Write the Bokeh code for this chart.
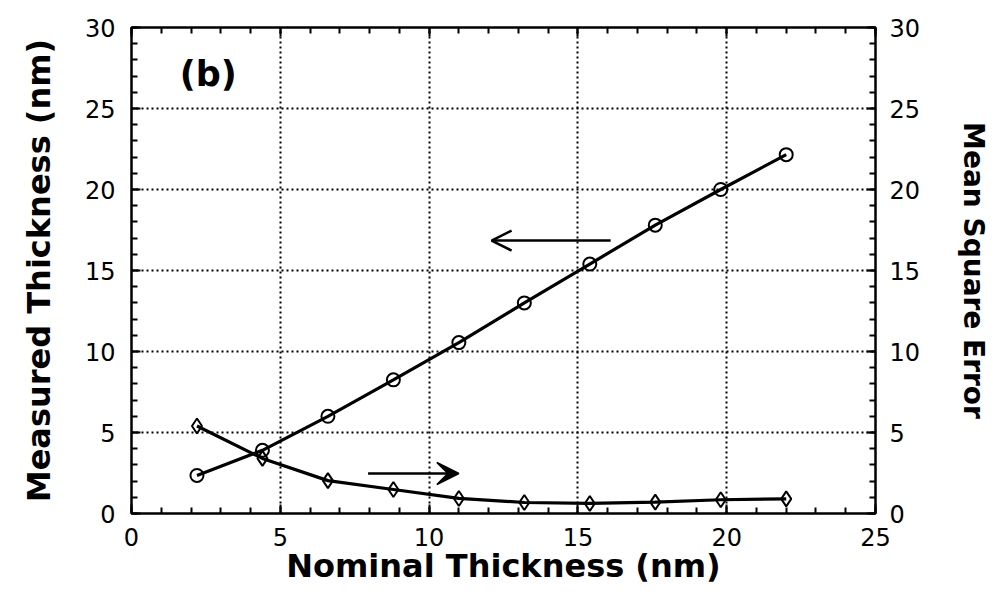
from bokeh.plotting import figure
from bokeh.models import (Range1d, LinearAxis, FixedTicker, Label, Arrow,
                          VeeHead, OpenHead, ColumnDataSource, CustomJSTickFormatter)
from bokeh.embed import file_html
from bokeh.resources import INLINE

# ---- data ----
nominal = [2.2, 4.4, 6.6, 8.8, 11.0, 13.2, 15.4, 17.6, 19.8, 22.0]
measured = [2.35, 3.9, 6.0, 8.25, 10.55, 13.0, 15.4, 17.8, 20.0, 22.15]
mse = [5.4, 3.4, 2.03, 1.48, 0.93, 0.68, 0.62, 0.7, 0.85, 0.9]

x_major = [0, 5, 10, 15, 20, 25]
x_minor = list(range(0, 26))
y_major = [0, 5, 10, 15, 20, 25, 30]
y_minor = list(range(0, 31))

x_title = "Nominal Thickness (nm)"
y_title = "Measured Thickness (nm)"
y2_title = "Mean Square Error"

# arrows pointing to the axis each curve belongs to
left_arrow = dict(x_start=16.1, x_end=12.1, y=16.85)
right_arrow = dict(x_start=7.95, x_end=11.0, y=2.47)

panel_tag = "(b)"
panel_pos = (1.62, 27.1)

FONT = "DejaVu Sans"

p = figure(width=1002, height=603, output_backend="svg", toolbar_location=None,
           x_range=Range1d(0, 25), y_range=Range1d(0, 30),
           x_axis_location=None, y_axis_location=None,
           min_border_left=131, min_border_right=127,
           min_border_top=27, min_border_bottom=90)
p.extra_y_ranges = {"mse": Range1d(0, 30)}
p.background_fill_color = "white"
p.border_fill_color = "white"
p.outline_line_color = "black"
p.outline_line_width = 2


def style_axis(ax, ticks, minor, labels=True):
    ax.ticker = FixedTicker(ticks=ticks, minor_ticks=minor)
    ax.axis_line_color = "black"
    ax.axis_line_width = 2
    ax.major_tick_in = 9
    ax.major_tick_out = 0
    ax.minor_tick_in = 6
    ax.minor_tick_out = 0
    ax.major_tick_line_width = 2
    ax.minor_tick_line_width = 2
    ax.major_tick_line_color = "black"
    ax.minor_tick_line_color = "black"
    ax.major_label_text_font = FONT
    ax.major_label_text_font_size = "24px"
    ax.major_label_text_color = "black"
    ax.axis_label_text_font = FONT
    ax.axis_label_text_font_style = "bold"
    ax.axis_label_text_font_size = "32px"
    ax.axis_label_text_color = "black"
    if not labels:
        ax.formatter = CustomJSTickFormatter(code="return ''")


xb = LinearAxis(axis_label=x_title)
style_axis(xb, x_major, x_minor)
xb.major_label_standoff = 14
xb.axis_label_standoff = -2
p.add_layout(xb, "below")

xt = LinearAxis()
style_axis(xt, x_major, x_minor, labels=False)
xt.major_label_standoff = 0
p.add_layout(xt, "above")

yl = LinearAxis(axis_label=y_title)
style_axis(yl, y_major, y_minor)
yl.major_label_standoff = 16
yl.axis_label_standoff = 24
p.add_layout(yl, "left")

yr = LinearAxis(y_range_name="mse", axis_label=y2_title)
style_axis(yr, y_major, y_minor)
yr.major_label_standoff = 14
yr.axis_label_standoff = 34
yr.axis_label_text_font_size = "28px"
p.add_layout(yr, "right")

for g, t in ((p.xgrid, x_major), (p.ygrid, y_major)):
    g.ticker = FixedTicker(ticks=t)
    g.grid_line_color = "black"
    g.grid_line_width = 2
    g.grid_line_dash = "2 3"

src = ColumnDataSource(dict(x=nominal, meas=measured, mse=mse))

p.line("x", "meas", source=src, line_color="black", line_width=3.2)
p.scatter("x", "meas", source=src, marker="circle", size=13,
          fill_color=None, line_color="black", line_width=2)

p.line("x", "mse", source=src, y_range_name="mse", line_color="black", line_width=3.2)
p.scatter("x", "mse", source=src, y_range_name="mse", marker="diamond", size=15,
          fill_color=None, line_color="black", line_width=2)

p.add_layout(Arrow(end=OpenHead(size=20, line_width=2.5, line_color="black"),
                   x_start=left_arrow["x_start"], y_start=left_arrow["y"],
                   x_end=left_arrow["x_end"], y_end=left_arrow["y"],
                   line_width=2.5, line_color="black"))
p.add_layout(Arrow(end=VeeHead(size=22, line_width=1.5, line_color="black", fill_color="black"),
                   x_start=right_arrow["x_start"], y_start=right_arrow["y"],
                   x_end=right_arrow["x_end"], y_end=right_arrow["y"],
                   y_range_name="mse", line_width=2.5, line_color="black"))

p.add_layout(Label(x=panel_pos[0], y=panel_pos[1], text=panel_tag,
                   text_font=FONT, text_font_style="bold", text_font_size="35px",
                   text_baseline="middle", text_align="left", text_color="black"))

open("out.html", "w").write(file_html(p, INLINE))
